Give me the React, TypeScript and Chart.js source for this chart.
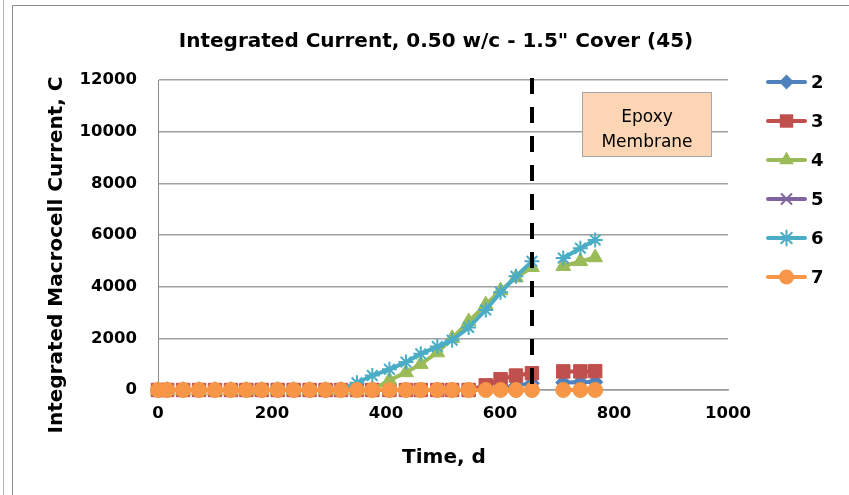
import React, { useEffect, useRef } from 'react';
import { Chart, registerables } from 'chart.js';

Chart.register(...registerables);

// ---- data ----
const TITLE = 'Integrated Current, 0.50 w/c - 1.5" Cover (45)';
const X_TITLE = 'Time, d';
const Y_TITLE = 'Integrated Macrocell Current, C';
const NOTE_LINES = ['Epoxy', 'Membrane'];
const EPOXY_DAY = 656;

const DAYS = [0, 16, 44, 72, 100, 128, 155, 182, 210, 238, 266, 294, 321, 349, 376, 406, 435, 461, 490, 516, 545, 575, 601, 628, 656, 684, 711, 741, 767];

const SERIES_2 = [0, 0, 0, 0, 0, 0, 0, 0, 0, 0, 0, 0, 0, 0, 0, 0, 0, 0, 0, 0, 0, 20, 80, 170, 260, null, 290, 300, 310];
const SERIES_3 = [0, 0, 0, 0, 0, 0, 0, 0, 0, 0, 0, 0, 0, 0, 0, 0, 0, 0, 0, 0, 0, 180, 420, 560, 650, null, 720, 720, 730];
const SERIES_4 = [0, 0, 0, 0, 0, 0, 0, 0, 0, 0, 0, 0, 0, 0, 0, 380, 680, 1000, 1450, 2000, 2650, 3300, 3850, 4350, 4750, null, 4790, 4980, 5130];
const SERIES_5 = [0, 0, 0, 0, 0, 0, 0, 0, 0, 0, 0, 0, 0, 0, 0, 0, 0, 0, 0, 0, 0, 0, 0, 0, 0, null, 0, 0, 0];
const SERIES_6 = [0, 0, 0, 0, 0, 0, 0, 0, 0, 0, 0, 0, 0, 280, 560, 800, 1080, 1400, 1680, 1930, 2420, 3100, 3780, 4400, 4980, null, 5110, 5490, 5810];
const SERIES_7 = [0, 0, 0, 0, 0, 0, 0, 0, 0, 0, 0, 0, 0, 0, 0, 0, 0, 0, 0, 0, 0, 0, 0, 0, 0, null, 0, 0, 0];

const LABELS = ['2', '3', '4', '5', '6', '7'];
const VALUES = [SERIES_2, SERIES_3, SERIES_4, SERIES_5, SERIES_6, SERIES_7];

const X_TICKS = [0, 200, 400, 600, 800, 1000];
const Y_TICKS = [0, 2000, 4000, 6000, 8000, 10000, 12000];

// ---- styles ----
const COLORS = ['#4F81BD', '#C0504D', '#9BBB59', '#8064A2', '#4BACC6', '#F79646'];
const STYLES = ['rectRot', 'rect', 'triangle', 'crossRot', 'star', 'circle'];
const RADII = [7.5, 9.5, 8.5, 7, 7.5, 7.5];
const FONT = "'DejaVu Sans', sans-serif";

function drawMarker(ctx: CanvasRenderingContext2D, style: string, x: number, y: number, r: number, color: string) {
  ctx.save();
  ctx.fillStyle = color;
  ctx.strokeStyle = color;
  ctx.lineWidth = 2;
  ctx.beginPath();
  if (style === 'circle') {
    ctx.arc(x, y, r, 0, Math.PI * 2);
    ctx.fill();
  } else if (style === 'rect') {
    const s = r * Math.SQRT1_2;
    ctx.rect(x - s, y - s, 2 * s, 2 * s);
    ctx.fill();
  } else if (style === 'rectRot') {
    ctx.moveTo(x, y - r);
    ctx.lineTo(x + r, y);
    ctx.lineTo(x, y + r);
    ctx.lineTo(x - r, y);
    ctx.closePath();
    ctx.fill();
  } else if (style === 'triangle') {
    let a = 0;
    ctx.moveTo(x + Math.sin(a) * r, y - Math.cos(a) * r);
    a += (2 * Math.PI) / 3;
    ctx.lineTo(x + Math.sin(a) * r, y - Math.cos(a) * r);
    a += (2 * Math.PI) / 3;
    ctx.lineTo(x + Math.sin(a) * r, y - Math.cos(a) * r);
    ctx.closePath();
    ctx.fill();
  } else if (style === 'crossRot' || style === 'star') {
    const d = r * Math.SQRT1_2;
    ctx.moveTo(x - d, y - d);
    ctx.lineTo(x + d, y + d);
    ctx.moveTo(x - d, y + d);
    ctx.lineTo(x + d, y - d);
    if (style === 'star') {
      ctx.moveTo(x, y - r);
      ctx.lineTo(x, y + r);
      ctx.moveTo(x - r, y);
      ctx.lineTo(x + r, y);
    }
    ctx.stroke();
  }
  ctx.restore();
}

const decorPlugin = {
  id: 'decor',
  beforeDraw(chart: any) {
    const ctx: CanvasRenderingContext2D = chart.ctx;
    const W = chart.width;
    const H = chart.height;
    ctx.save();
    ctx.fillStyle = '#ffffff';
    ctx.fillRect(0, 0, W, H);
    // outer frames
    ctx.strokeStyle = '#b4b4b4';
    ctx.lineWidth = 1;
    ctx.beginPath();
    ctx.moveTo(3.5, 0);
    ctx.lineTo(3.5, H);
    ctx.stroke();
    ctx.strokeStyle = '#8a8a8a';
    ctx.beginPath();
    ctx.moveTo(12.5, H);
    ctx.lineTo(12.5, 5.5);
    ctx.lineTo(W, 5.5);
    ctx.stroke();
    // titles
    ctx.fillStyle = '#000';
    ctx.textAlign = 'center';
    ctx.textBaseline = 'middle';
    ctx.font = `bold 20px ${FONT}`;
    ctx.fillText(TITLE, 436, 42);
    ctx.fillText(X_TITLE, 444, 458);
    ctx.save();
    ctx.translate(57, 255);
    ctx.rotate(-Math.PI / 2);
    ctx.fillText(Y_TITLE, 0, 0);
    ctx.restore();
    ctx.restore();
  },
  afterDatasetsDraw(chart: any) {
    const ctx: CanvasRenderingContext2D = chart.ctx;
    const xs = chart.scales.x;
    const area = chart.chartArea;
    ctx.save();
    // dashed epoxy line
    const xp = Math.round(xs.getPixelForValue(EPOXY_DAY));
    ctx.strokeStyle = '#000';
    ctx.lineWidth = 4;
    ctx.setLineDash([16, 13]);
    ctx.beginPath();
    ctx.moveTo(xp, area.top - 2);
    ctx.lineTo(xp, area.bottom + 7);
    ctx.stroke();
    ctx.setLineDash([]);
    // note box
    ctx.fillStyle = '#FCD5B4';
    ctx.fillRect(582, 92, 130, 65);
    ctx.strokeStyle = '#a6a6a6';
    ctx.lineWidth = 1;
    ctx.strokeRect(582.5, 92.5, 129, 64);
    ctx.fillStyle = '#000';
    ctx.font = `17px ${FONT}`;
    ctx.textAlign = 'center';
    ctx.textBaseline = 'alphabetic';
    ctx.fillText(NOTE_LINES[0], 647, 122);
    ctx.fillText(NOTE_LINES[1], 647, 147);
    ctx.restore();
  },
  afterDraw(chart: any) {
    const ctx: CanvasRenderingContext2D = chart.ctx;
    ctx.save();
    LABELS.forEach((label, i) => {
      const y = 82 + i * 39;
      ctx.strokeStyle = COLORS[i];
      ctx.lineWidth = 4;
      ctx.lineCap = 'round';
      ctx.beginPath();
      ctx.moveTo(768, y);
      ctx.lineTo(805, y);
      ctx.stroke();
      drawMarker(ctx, STYLES[i], 786.5, y, RADII[i], COLORS[i]);
      ctx.fillStyle = '#000';
      ctx.font = `bold 18px ${FONT}`;
      ctx.textAlign = 'left';
      ctx.textBaseline = 'middle';
      ctx.fillText(label, 811, y + 1);
    });
    ctx.restore();
  },
};

export default function App() {
  const canvasRef = useRef<HTMLCanvasElement | null>(null);

  useEffect(() => {
    if (!canvasRef.current) return;
    const datasets = LABELS.map((label, i) => ({
      label,
      data: DAYS.map((d, j) => ({ x: d, y: VALUES[i][j] })),
      borderColor: COLORS[i],
      backgroundColor: COLORS[i],
      pointBackgroundColor: COLORS[i],
      pointBorderColor: COLORS[i],
      pointStyle: STYLES[i],
      pointRadius: RADII[i],
      pointBorderWidth: STYLES[i] === 'crossRot' || STYLES[i] === 'star' ? 2 : 1,
      borderWidth: 4,
      tension: 0,
      spanGaps: false,
      clip: false,
      order: LABELS.length - i,
    }));

    const chart = new Chart(canvasRef.current, {
      type: 'line',
      data: { datasets } as any,
      options: {
        animation: false,
        responsive: false,
        devicePixelRatio: 1,
        layout: { padding: { left: 0, top: 80, right: 121, bottom: 0 } },
        plugins: {
          legend: { display: false },
          title: { display: false },
          tooltip: { enabled: false },
        },
        scales: {
          x: {
            type: 'linear',
            min: X_TICKS[0],
            max: X_TICKS[X_TICKS.length - 1],
            afterBuildTicks: (s: any) => {
              s.ticks = X_TICKS.map((v) => ({ value: v }));
            },
            ticks: {
              color: '#000',
              font: { family: FONT, size: 16.5, weight: 'bold' },
              padding: 14,
              maxRotation: 0,
              callback: (v: any) => String(v),
            },
            grid: { display: false, drawTicks: false },
            border: { display: true, color: '#9a9a9a', width: 1.5 },
            afterFit: (s: any) => {
              s.height = 105;
            },
          },
          y: {
            min: Y_TICKS[0],
            max: Y_TICKS[Y_TICKS.length - 1],
            afterBuildTicks: (s: any) => {
              s.ticks = Y_TICKS.map((v) => ({ value: v }));
            },
            ticks: {
              color: '#000',
              font: { family: FONT, size: 16.5, weight: 'bold' },
              padding: 21,
              callback: (v: any) => String(v),
            },
            grid: { color: '#a0a0a0', lineWidth: 1.5, drawTicks: false },
            border: { display: true, color: '#8a8a8a', width: 1 },
            afterFit: (s: any) => {
              s.width = 158;
            },
          },
        },
      } as any,
      plugins: [decorPlugin],
    });
    return () => chart.destroy();
  }, []);

  return (
    <div style={{ position: 'absolute', left: 0, top: 0, width: 849, height: 495, background: '#fff' }}>
      <canvas ref={canvasRef} width={849} height={495} />
    </div>
  );
}
